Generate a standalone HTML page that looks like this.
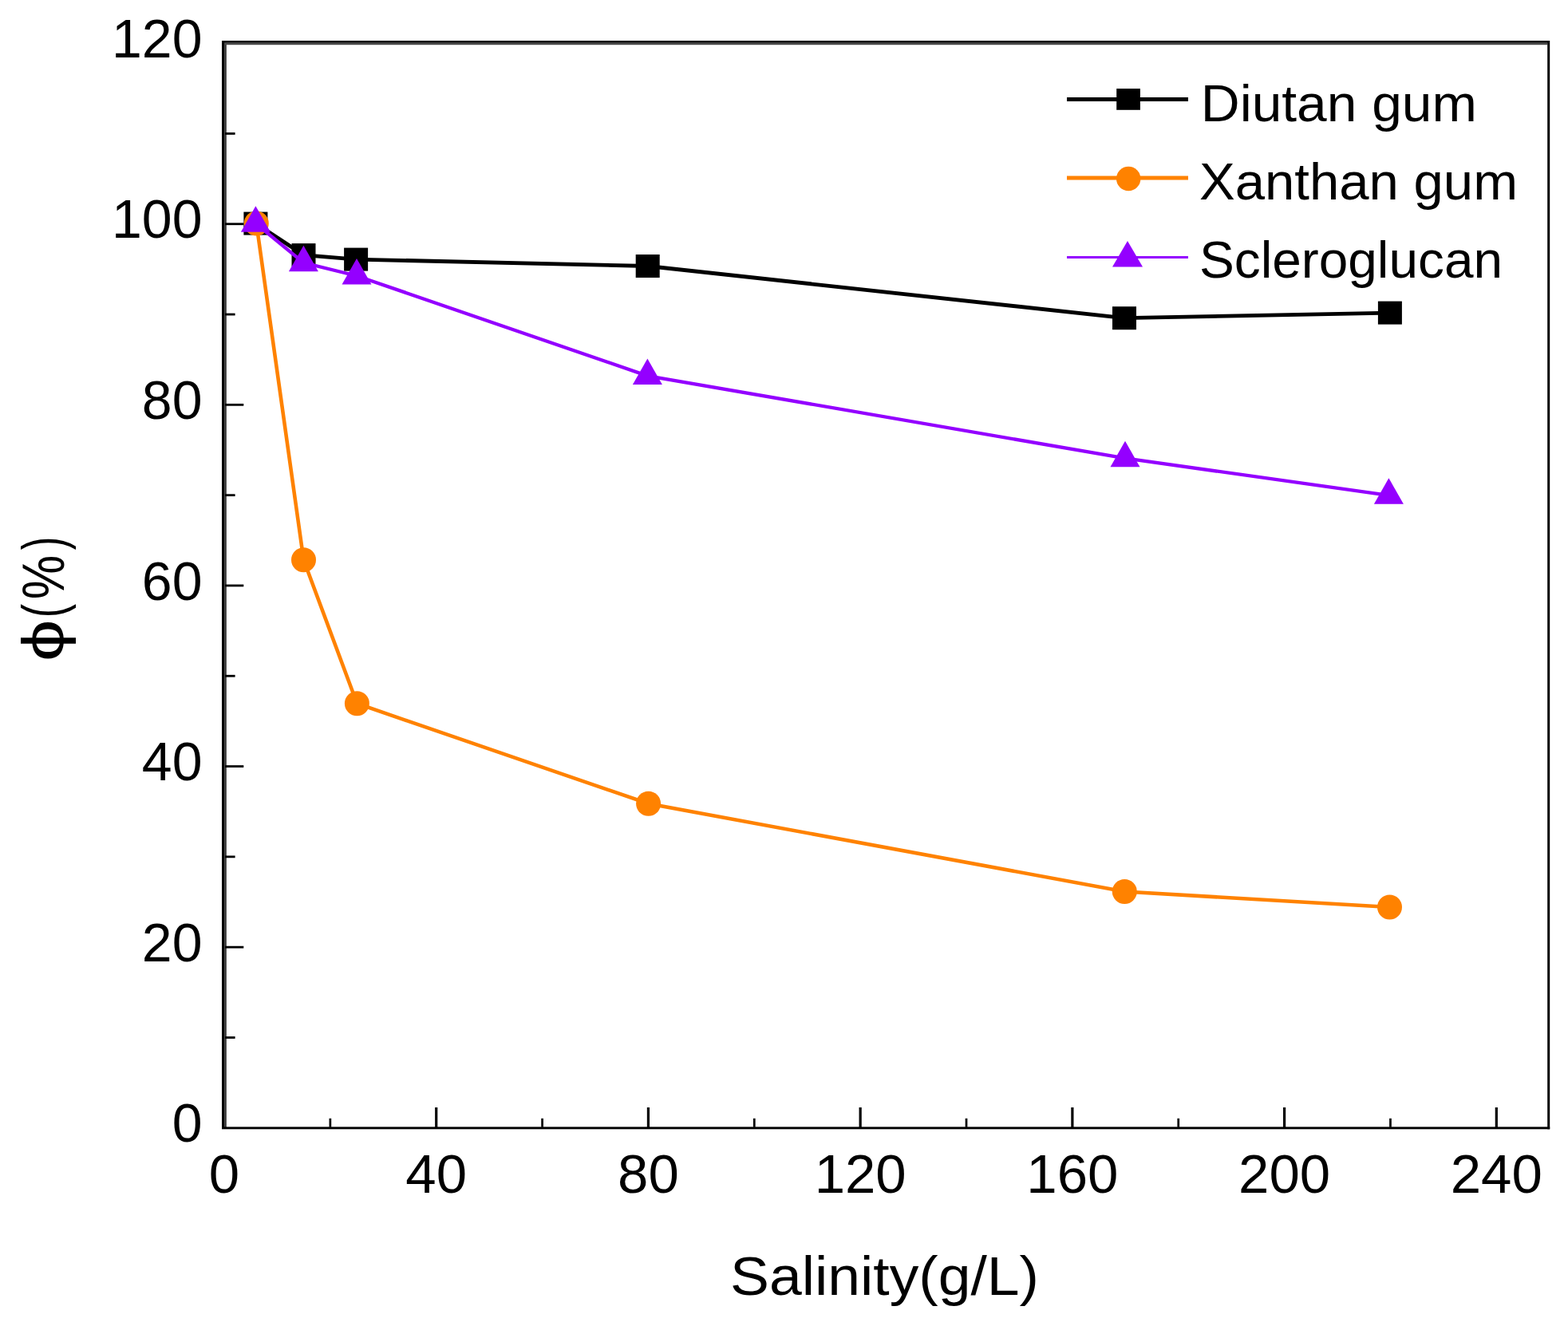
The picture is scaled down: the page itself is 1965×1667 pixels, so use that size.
<!DOCTYPE html>
<html><head><meta charset="utf-8"><title>Salinity chart</title>
<style>html,body{margin:0;padding:0;background:#fff;overflow:hidden;}svg{display:block;}</style>
</head><body>
<svg width="1965" height="1667" viewBox="0 0 1965 1667">
<rect width="1965" height="1667" fill="#fff"/>
<rect x="278" y="51" width="3.2" height="1364" fill="#000"/>
<rect x="281.2" y="53.7" width="2.6" height="1361" fill="#333"/>
<rect x="278" y="51" width="1664" height="2.8" fill="#000"/>
<rect x="281.2" y="53.7" width="1658" height="2.5" fill="#4a4a4a"/>
<rect x="1939.2" y="51" width="3" height="1364.3" fill="#000"/>
<rect x="278" y="1412.4" width="1664.2" height="2.9" fill="#000"/>
<rect x="412.51" y="1401.8" width="2.7" height="11" fill="#000"/>
<rect x="545.12" y="1388" width="3.2" height="25" fill="#000"/>
<rect x="678.23" y="1401.8" width="2.7" height="11" fill="#000"/>
<rect x="810.84" y="1388" width="3.2" height="25" fill="#000"/>
<rect x="943.95" y="1401.8" width="2.7" height="11" fill="#000"/>
<rect x="1076.56" y="1388" width="3.2" height="25" fill="#000"/>
<rect x="1209.67" y="1401.8" width="2.7" height="11" fill="#000"/>
<rect x="1342.28" y="1388" width="3.2" height="25" fill="#000"/>
<rect x="1475.39" y="1401.8" width="2.7" height="11" fill="#000"/>
<rect x="1608.00" y="1388" width="3.2" height="25" fill="#000"/>
<rect x="1741.11" y="1401.8" width="2.7" height="11" fill="#000"/>
<rect x="1873.72" y="1388" width="3.2" height="25" fill="#000"/>
<rect x="282" y="1299.05" width="12.6" height="2.8" fill="#000"/>
<rect x="282" y="1185.75" width="23.3" height="2.8" fill="#000"/>
<rect x="282" y="1072.45" width="12.6" height="2.8" fill="#000"/>
<rect x="282" y="959.15" width="23.3" height="2.8" fill="#000"/>
<rect x="282" y="845.85" width="12.6" height="2.8" fill="#000"/>
<rect x="282" y="732.55" width="23.3" height="2.8" fill="#000"/>
<rect x="282" y="619.25" width="12.6" height="2.8" fill="#000"/>
<rect x="282" y="505.95" width="23.3" height="2.8" fill="#000"/>
<rect x="282" y="392.65" width="12.6" height="2.8" fill="#000"/>
<rect x="282" y="279.35" width="23.3" height="2.8" fill="#000"/>
<rect x="282" y="166.05" width="12.6" height="2.8" fill="#000"/>
<text x="281.0" y="1495.3" text-anchor="middle" font-family="'Liberation Sans', Arial, sans-serif" font-size="69" fill="#000">0</text>
<text x="546.7" y="1495.3" text-anchor="middle" font-family="'Liberation Sans', Arial, sans-serif" font-size="69" fill="#000">40</text>
<text x="812.4" y="1495.3" text-anchor="middle" font-family="'Liberation Sans', Arial, sans-serif" font-size="69" fill="#000">80</text>
<text x="1078.2" y="1495.3" text-anchor="middle" font-family="'Liberation Sans', Arial, sans-serif" font-size="69" fill="#000">120</text>
<text x="1343.9" y="1495.3" text-anchor="middle" font-family="'Liberation Sans', Arial, sans-serif" font-size="69" fill="#000">160</text>
<text x="1609.6" y="1495.3" text-anchor="middle" font-family="'Liberation Sans', Arial, sans-serif" font-size="69" fill="#000">200</text>
<text x="1875.3" y="1495.3" text-anchor="middle" font-family="'Liberation Sans', Arial, sans-serif" font-size="69" fill="#000">240</text>
<text x="253.5" y="1431.2" text-anchor="end" font-family="'Liberation Sans', Arial, sans-serif" font-size="68" fill="#000">0</text>
<text x="253.5" y="1204.7" text-anchor="end" font-family="'Liberation Sans', Arial, sans-serif" font-size="68" fill="#000">20</text>
<text x="253.5" y="978.0" text-anchor="end" font-family="'Liberation Sans', Arial, sans-serif" font-size="68" fill="#000">40</text>
<text x="253.5" y="751.5" text-anchor="end" font-family="'Liberation Sans', Arial, sans-serif" font-size="68" fill="#000">60</text>
<text x="253.5" y="524.9" text-anchor="end" font-family="'Liberation Sans', Arial, sans-serif" font-size="68" fill="#000">80</text>
<text x="253.5" y="298.2" text-anchor="end" font-family="'Liberation Sans', Arial, sans-serif" font-size="68" fill="#000">100</text>
<text x="253.5" y="71.7" text-anchor="end" font-family="'Liberation Sans', Arial, sans-serif" font-size="68" fill="#000">120</text>
<polyline points="320.4,280.1 380.5,319.6 446.1,325.1 811.7,333.5 1409.0,398.7 1741.9,392.1" fill="none" stroke="#000" stroke-width="4.8" stroke-linejoin="miter"/>
<rect x="305.4" y="265.6" width="30" height="29" fill="#000"/>
<rect x="365.5" y="305.1" width="30" height="29" fill="#000"/>
<rect x="431.1" y="310.6" width="30" height="29" fill="#000"/>
<rect x="796.7" y="319.0" width="30" height="29" fill="#000"/>
<rect x="1394.0" y="384.2" width="30" height="29" fill="#000"/>
<rect x="1726.9" y="377.6" width="30" height="29" fill="#000"/>
<polyline points="321.3,280.0 380.5,701.7 447.4,881.8 812.6,1007.3 1409.3,1117.5 1741.5,1137.0" fill="none" stroke="#FF8200" stroke-width="4.6" stroke-linejoin="miter"/>
<circle cx="321.3" cy="280.0" r="15.5" fill="#FF8200"/>
<circle cx="380.5" cy="701.7" r="15.5" fill="#FF8200"/>
<circle cx="447.4" cy="881.8" r="15.5" fill="#FF8200"/>
<circle cx="812.6" cy="1007.3" r="15.5" fill="#FF8200"/>
<circle cx="1409.3" cy="1117.5" r="15.5" fill="#FF8200"/>
<circle cx="1741.5" cy="1137.0" r="15.5" fill="#FF8200"/>
<polyline points="320.4,280.0 380.4,329.4 447.0,345.7 811.4,471.1 1410.0,574.4 1740.4,620.9" fill="none" stroke="#9400FF" stroke-width="4.3" stroke-linejoin="miter"/>
<polygon points="320.4,258.3 338.9,290.8 301.9,290.8" fill="#9400FF"/>
<polygon points="380.4,307.7 398.9,340.2 361.9,340.2" fill="#9400FF"/>
<polygon points="447.0,324.0 465.5,356.5 428.5,356.5" fill="#9400FF"/>
<polygon points="811.4,449.4 829.9,481.9 792.9,481.9" fill="#9400FF"/>
<polygon points="1410.0,552.7 1428.5,585.2 1391.5,585.2" fill="#9400FF"/>
<polygon points="1740.4,599.2 1758.9,631.7 1721.9,631.7" fill="#9400FF"/>
<line x1="1337" y1="124.5" x2="1489" y2="124.5" stroke="#000" stroke-width="4.9"/>
<rect x="1399.2" y="111.1" width="29.7" height="26.7" fill="#000"/>
<line x1="1337" y1="223" x2="1489" y2="223" stroke="#FF8200" stroke-width="5.2"/>
<circle cx="1414.2" cy="224" r="15.2" fill="#FF8200"/>
<line x1="1337" y1="322.5" x2="1489" y2="322.5" stroke="#9400FF" stroke-width="3"/>
<polygon points="1413,302.1 1432,334.5 1394,334.5" fill="#9400FF"/>
<text x="1504.8" y="151.8" textLength="346" lengthAdjust="spacingAndGlyphs" font-family="'Liberation Sans', Arial, sans-serif" font-size="64" fill="#000">Diutan gum</text>
<text x="1503" y="249.5" textLength="399" lengthAdjust="spacingAndGlyphs" font-family="'Liberation Sans', Arial, sans-serif" font-size="64" fill="#000">Xanthan gum</text>
<text x="1503" y="347.7" textLength="380" lengthAdjust="spacingAndGlyphs" font-family="'Liberation Sans', Arial, sans-serif" font-size="64" fill="#000">Scleroglucan</text>
<text x="915" y="1622.7" textLength="387" lengthAdjust="spacingAndGlyphs" font-family="'Liberation Sans', Arial, sans-serif" font-size="69" fill="#000">Salinity(g/L)</text>
<text transform="translate(80.2,827) rotate(-90)" y="0" font-family="'Liberation Sans', Arial, sans-serif" font-size="74" fill="#000"><tspan x="-2.29" textLength="52.98" lengthAdjust="spacingAndGlyphs">ϕ</tspan><tspan x="52.67" textLength="17.34" lengthAdjust="spacingAndGlyphs">(</tspan><tspan x="75.76" textLength="55.43" lengthAdjust="spacingAndGlyphs">%</tspan><tspan x="137.70" textLength="16.46" lengthAdjust="spacingAndGlyphs">)</tspan></text>
</svg>
</body></html>
